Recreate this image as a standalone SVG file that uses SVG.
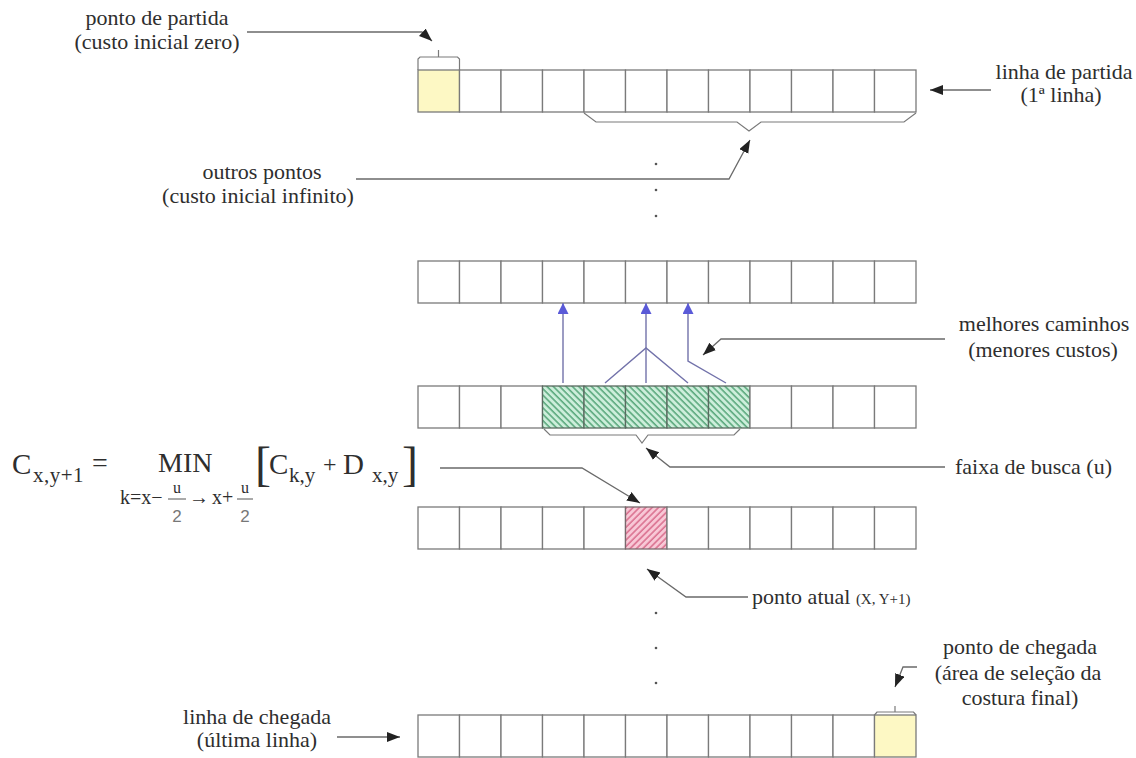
<svg xmlns="http://www.w3.org/2000/svg" width="1136" height="758" viewBox="0 0 1136 758">
<style>
svg{background:#fff}
.t{font-family:"Liberation Serif","Times New Roman",serif;font-size:22px;fill:#2e2e2e}
.c{text-anchor:middle}
.f{font-family:"Liberation Serif","Times New Roman",serif;fill:#2e2e2e}
.cell{fill:#fff;stroke:#7a7a7a;stroke-width:1.3}
.yel{fill:#fdf8c4;stroke:#7a7a7a;stroke-width:1.3}
.grn{fill:url(#hg);stroke:#5a6a60;stroke-width:1.3}
.pnk{fill:url(#hp);stroke:#7a6a6e;stroke-width:1.3}
.ln{fill:none;stroke:#6a6a6a;stroke-width:1.3}
.br{fill:none;stroke:#7a7a7a;stroke-width:1.2}
.bl{fill:none;stroke:#7272aa;stroke-width:1.4}
.dot{fill:#555}
</style>
<defs>
<pattern id="hg" width="4.5" height="4.5" patternUnits="userSpaceOnUse" patternTransform="rotate(-45)">
<rect width="4.5" height="4.5" fill="#cdeedb"/>
<line x1="1" y1="0" x2="1" y2="4.5" stroke="#55a578" stroke-width="1.5"/>
</pattern>
<pattern id="hp" width="4.5" height="4.5" patternUnits="userSpaceOnUse" patternTransform="rotate(45)">
<rect width="4.5" height="4.5" fill="#f8c8d6"/>
<line x1="1" y1="0" x2="1" y2="4.5" stroke="#d86c8c" stroke-width="1.5"/>
</pattern>
<marker id="ah" markerUnits="userSpaceOnUse" markerWidth="14" markerHeight="11" refX="13" refY="5" orient="auto">
<path d="M0,0 L13,5 L0,10 z" fill="#222"/>
</marker>
<marker id="bh" markerUnits="userSpaceOnUse" markerWidth="12" markerHeight="12" refX="11" refY="5.5" orient="auto">
<path d="M0,0 L11,5.5 L0,11 z" fill="#5a5ad8"/>
</marker>
</defs>
<rect width="1136" height="758" fill="#fff"/>

<g id="row1">
<rect class="yel" x="418" y="70" width="41.5" height="42"/>
<rect class="cell" x="459.5" y="70" width="41.5" height="42"/>
<rect class="cell" x="501" y="70" width="41.5" height="42"/>
<rect class="cell" x="542.5" y="70" width="41.5" height="42"/>
<rect class="cell" x="584" y="70" width="41.5" height="42"/>
<rect class="cell" x="625.5" y="70" width="41.5" height="42"/>
<rect class="cell" x="667" y="70" width="41.5" height="42"/>
<rect class="cell" x="708.5" y="70" width="41.5" height="42"/>
<rect class="cell" x="750" y="70" width="41.5" height="42"/>
<rect class="cell" x="791.5" y="70" width="41.5" height="42"/>
<rect class="cell" x="833" y="70" width="41.5" height="42"/>
<rect class="cell" x="874.5" y="70" width="41.5" height="42"/>
</g>

<g id="row2">
<rect class="cell" x="418" y="261" width="41.5" height="42"/>
<rect class="cell" x="459.5" y="261" width="41.5" height="42"/>
<rect class="cell" x="501" y="261" width="41.5" height="42"/>
<rect class="cell" x="542.5" y="261" width="41.5" height="42"/>
<rect class="cell" x="584" y="261" width="41.5" height="42"/>
<rect class="cell" x="625.5" y="261" width="41.5" height="42"/>
<rect class="cell" x="667" y="261" width="41.5" height="42"/>
<rect class="cell" x="708.5" y="261" width="41.5" height="42"/>
<rect class="cell" x="750" y="261" width="41.5" height="42"/>
<rect class="cell" x="791.5" y="261" width="41.5" height="42"/>
<rect class="cell" x="833" y="261" width="41.5" height="42"/>
<rect class="cell" x="874.5" y="261" width="41.5" height="42"/>
</g>

<g id="row3">
<rect class="cell" x="418" y="386" width="41.5" height="42"/>
<rect class="cell" x="459.5" y="386" width="41.5" height="42"/>
<rect class="cell" x="501" y="386" width="41.5" height="42"/>
<rect class="grn" x="542.5" y="386" width="41.5" height="42"/>
<rect class="grn" x="584" y="386" width="41.5" height="42"/>
<rect class="grn" x="625.5" y="386" width="41.5" height="42"/>
<rect class="grn" x="667" y="386" width="41.5" height="42"/>
<rect class="grn" x="708.5" y="386" width="41.5" height="42"/>
<rect class="cell" x="750" y="386" width="41.5" height="42"/>
<rect class="cell" x="791.5" y="386" width="41.5" height="42"/>
<rect class="cell" x="833" y="386" width="41.5" height="42"/>
<rect class="cell" x="874.5" y="386" width="41.5" height="42"/>
</g>

<g id="row4">
<rect class="cell" x="418" y="507" width="41.5" height="42"/>
<rect class="cell" x="459.5" y="507" width="41.5" height="42"/>
<rect class="cell" x="501" y="507" width="41.5" height="42"/>
<rect class="cell" x="542.5" y="507" width="41.5" height="42"/>
<rect class="cell" x="584" y="507" width="41.5" height="42"/>
<rect class="pnk" x="625.5" y="507" width="41.5" height="42"/>
<rect class="cell" x="667" y="507" width="41.5" height="42"/>
<rect class="cell" x="708.5" y="507" width="41.5" height="42"/>
<rect class="cell" x="750" y="507" width="41.5" height="42"/>
<rect class="cell" x="791.5" y="507" width="41.5" height="42"/>
<rect class="cell" x="833" y="507" width="41.5" height="42"/>
<rect class="cell" x="874.5" y="507" width="41.5" height="42"/>
</g>

<g id="row5">
<rect class="cell" x="418" y="715" width="41.5" height="42"/>
<rect class="cell" x="459.5" y="715" width="41.5" height="42"/>
<rect class="cell" x="501" y="715" width="41.5" height="42"/>
<rect class="cell" x="542.5" y="715" width="41.5" height="42"/>
<rect class="cell" x="584" y="715" width="41.5" height="42"/>
<rect class="cell" x="625.5" y="715" width="41.5" height="42"/>
<rect class="cell" x="667" y="715" width="41.5" height="42"/>
<rect class="cell" x="708.5" y="715" width="41.5" height="42"/>
<rect class="cell" x="750" y="715" width="41.5" height="42"/>
<rect class="cell" x="791.5" y="715" width="41.5" height="42"/>
<rect class="cell" x="833" y="715" width="41.5" height="42"/>
<rect class="yel" x="874.5" y="715" width="41.5" height="42"/>
</g>

<g id="brackets">
<path class="br" d="M418,70 L418,59 L420,57 L457.5,57 L459.5,59 L459.5,70 M438.5,57 L438.5,50"/>
<path class="br" d="M584,113 L596,122 L737,122 L749,131 L761,122 L904,122 L916,113"/>
<path class="br" d="M544,429 L550,435 L636,435 L642,443 L648,435 L734,435 L740,429"/>
<path class="br" d="M874.5,715 L877,712 L913.5,712 L916,715 M895,712 L895,706"/>
</g>

<g id="dots">
<circle class="dot" cx="656" cy="164" r="1.3"/>
<circle class="dot" cx="656" cy="190" r="1.3"/>
<circle class="dot" cx="656" cy="216" r="1.3"/>
<circle class="dot" cx="656" cy="613" r="1.3"/>
<circle class="dot" cx="656" cy="648" r="1.3"/>
<circle class="dot" cx="656" cy="683" r="1.3"/>
</g>

<g id="connectors">
<path class="ln" d="M247,32 L422,32 L432,41" marker-end="url(#ah)"/>
<path class="ln" d="M991,90 L930,90" marker-end="url(#ah)"/>
<path class="ln" d="M356,179 L729,179 L750,140" marker-end="url(#ah)"/>
<path class="ln" d="M945,339 L721,339 L703,355" marker-end="url(#ah)"/>
<path class="ln" d="M945,467 L670,467 L646,448" marker-end="url(#ah)"/>
<path class="ln" d="M440,468 L582,468 L640,503" marker-end="url(#ah)"/>
<path class="ln" d="M748,597 L686,597 L647,569" marker-end="url(#ah)"/>
<path class="ln" d="M917,667 L903,667 L895,687" marker-end="url(#ah)"/>
<path class="ln" d="M337,737 L400,737" marker-end="url(#ah)"/>
<path class="bl" d="M563,383 L563,303" marker-end="url(#bh)"/>
<path class="bl" d="M646,383 L646,303" marker-end="url(#bh)"/>
<path class="bl" d="M726,383 L688,361 L688,303" marker-end="url(#bh)"/>
<path class="bl" d="M605,383 L646,348 L688,383"/>
</g>

<g id="labels" font-family="Liberation Serif, Times New Roman, serif" font-size="22" fill="#2e2e2e">
<text class="t c" x="157" y="25">ponto de partida</text>
<text class="t c" x="157" y="49">(custo inicial zero)</text>
<text class="t c" x="1064" y="79">linha de partida</text>
<text class="t c" x="1061" y="102">(1ª linha)</text>
<text class="t c" x="262" y="179">outros pontos</text>
<text class="t c" x="258" y="203">(custo inicial infinito)</text>
<text class="t c" x="1044" y="331">melhores caminhos</text>
<text class="t c" x="1043" y="357">(menores custos)</text>
<text class="t" x="955" y="474">faixa de busca (u)</text>
<text class="t" x="752" y="604">ponto atual <tspan style="font-size:15px">(X, Y+1)</tspan></text>
<text class="t c" x="1020" y="654">ponto de chegada</text>
<text class="t c" x="1018" y="680">(área de seleção da</text>
<text class="t c" x="1020" y="705">costura final)</text>
<text class="t c" x="257" y="724">linha de chegada</text>
<text class="t c" x="257" y="747">(última linha)</text>
</g>

<g id="formula" font-family="Liberation Serif, Times New Roman, serif" fill="#2e2e2e">
<text class="f" x="12" y="474" font-size="29">C</text>
<text class="f" x="33" y="482" font-size="21" letter-spacing="0.5">x,y+1</text>
<text class="f" x="92" y="472" font-size="28">=</text>
<text class="f" x="158" y="472" font-size="28">MIN</text>
<text class="f" x="120" y="504" font-size="20">k=x−</text>
<text class="f" x="177" y="493" font-size="16" text-anchor="middle">u</text>
<line x1="168" y1="499" x2="186" y2="499" stroke="#555" stroke-width="1"/>
<text x="177" y="522" font-size="17" text-anchor="middle" font-family="Liberation Sans, Arial, sans-serif" fill="#777">2</text>
<text class="f" x="189" y="504" font-size="20">→</text>
<text class="f" x="212" y="504" font-size="20">x+</text>
<text class="f" x="245" y="493" font-size="16" text-anchor="middle">u</text>
<line x1="237" y1="499" x2="253" y2="499" stroke="#555" stroke-width="1"/>
<text x="245" y="522" font-size="17" text-anchor="middle" font-family="Liberation Sans, Arial, sans-serif" fill="#777">2</text>
<text class="f" x="255" y="480" font-size="48">[</text>
<text class="f" x="269" y="474" font-size="29">C</text>
<text class="f" x="289" y="482" font-size="21">k,y</text>
<text class="f" x="323" y="472" font-size="24">+</text>
<text class="f" x="343" y="474" font-size="29">D</text>
<text class="f" x="372" y="482" font-size="21">x,y</text>
<text class="f" x="402" y="480" font-size="48">]</text>
</g>
</svg>
